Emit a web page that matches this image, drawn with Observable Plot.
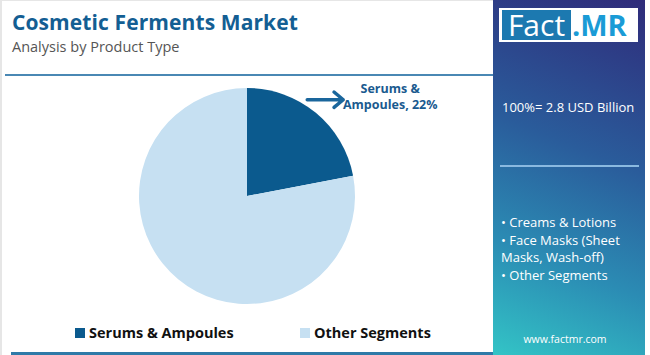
<!DOCTYPE html>
<html>
<head>
<meta charset="utf-8">
<script src="https://cdn.jsdelivr.net/npm/d3@7"></script>
<script src="https://cdn.jsdelivr.net/npm/@observablehq/plot@0.6"></script>
<style>
  html, body { margin: 0; padding: 0; background: #fff; }
  #wrap { position: relative; width: 650px; height: 355px; overflow: hidden; background: #fff; font-family: "Open Sans", sans-serif; }
  .abs { position: absolute; white-space: nowrap; }
  #title { left: 12px; top: 10px; font-size: 21px; line-height: 24px; font-weight: 700; color: #135e93; letter-spacing: 0.1px; }
  #subtitle { left: 12px; top: 39px; font-size: 14.5px; line-height: 16px; color: #555; }
  #topline { left: 5px; top: 74px; width: 488px; height: 2px; background: #4a88b4; }
  #botline { left: 11px; top: 352px; width: 482px; height: 3px; background: #2f7aa8; }
  #leftborder { left: 0; top: 0; width: 2px; height: 355px; background: #e6e6e6; }
  #topborder { left: 0; top: 0; width: 493px; height: 1px; background: #e6e6e6; }
  #chart { left: 0; top: 76px; }
  #panel { left: 493px; top: 0; width: 152px; height: 355px;
    background: linear-gradient(22deg, #33c4c6 0%, #2b8cb4 28%, #2a5c9b 58%, #2f2b7a 100%); }
  #logo { left: 499px; top: 8px; width: 139px; height: 34px; background: #fff; }
  #logoFact { left: 502px; top: 10px; width: 69px; height: 30px; background: #1c79b0; color: #fff; font-size: 30px; line-height: 30px; text-align: center; font-family: "Open Sans", sans-serif; }
  #logoMR { left: 572px; top: 10px; height: 30px; color: #1a9bd6; font-size: 29px; line-height: 30px; font-weight: 700; }
  #total { left: 502px; top: 98px; font-size: 13px; line-height: 18px; color: #fff; }
  #pline { left: 500px; top: 165px; width: 139px; height: 2px; background: #8ab9e0; }
  #bullets { left: 501px; top: 214px; font-size: 13px; line-height: 17.5px; color: #fff; white-space: normal; width: 140px; }
  #url { left: 493px; top: 332px; width: 144px; text-align: center; font-size: 10.5px; color: #fff; }
  .leg { top: 323px; font-size: 14.5px; line-height: 20px; font-weight: 700; color: #111; }
  .sw { width: 10px; height: 10px; top: 328px; }
</style>
</head>
<body>
<div id="wrap">
  <div class="abs" id="topborder"></div>
  <div class="abs" id="leftborder"></div>
  <div class="abs" id="title">Cosmetic Ferments Market</div>
  <div class="abs" id="subtitle">Analysis by Product Type</div>
  <div class="abs" id="topline"></div>
  <div class="abs" id="chart"></div>
  <div id="legend"></div>
  <div class="abs" id="botline"></div>
  <div class="abs" id="panel"></div>
  <div class="abs" id="logo"></div>
  <div class="abs" id="logoFact">Fact</div>
  <div class="abs" id="logoMR">.MR</div>
  <div class="abs" id="total"></div>
  <div class="abs" id="pline"></div>
  <div class="abs" id="bullets"></div>
  <div class="abs" id="url">www.factmr.com</div>
</div>
<script>
// ---- data ----
const segments = ["Serums & Ampoules", "Other Segments"];
const shares = [22, 78];
const colors = ["#0b5a8e", "#c6e0f2"];
const labelText = ["Serums &", "Ampoules, 22%"];
const totalText = "100%= 2.8 USD Billion";
const otherList = ["Creams & Lotions", "Face Masks (Sheet Masks, Wash-off)", "Other Segments"];

const data = segments.map((s, i) => ({segment: s, share: shares[i], color: colors[i]}));

// ---- layout (pixels) ----
const W = 493, H = 232, cx = 247, cy = 120, R = 108;

const arcs = d3.pie().value(d => d.share).sort(null)(data);
const first = arcs[0];
const aAng = first.startAngle + 0.4 * (first.endAngle - first.startAngle);
const aStart = {x: 1.053 * Math.sin(aAng), y: 1.053 * Math.cos(aAng)};
const aEnd = {x: aStart.x + 36 / R, y: aStart.y};
const lab = {x: aEnd.x + 47 / R, y: aStart.y + 4 / R};

const pieMark = (index, scales) => {
  const x0 = scales.x(0), y0 = scales.y(0), r = scales.x(1) - scales.x(0);
  const g = d3.create("svg:g").attr("transform", `translate(${x0},${y0})`);
  const arc = d3.arc().innerRadius(0).outerRadius(r);
  g.selectAll("path").data(arcs).join("path")
    .attr("d", arc).attr("fill", d => d.data.color);
  return g.node();
};

const plot = Plot.plot({
  width: W, height: H,
  margin: 0,
  x: {domain: [-cx / R, (W - cx) / R], axis: null},
  y: {domain: [-(H - cy) / R, cy / R], axis: null},
  marks: [
    pieMark,
    Plot.arrow([{x1: aStart.x, y1: aStart.y, x2: aEnd.x, y2: aEnd.y}], {
      x1: "x1", y1: "y1", x2: "x2", y2: "y2",
      stroke: "#1a669c", strokeWidth: 3.5, headLength: 11, headAngle: 80
    }),
    Plot.text([labelText.join("\n")], {
      x: () => lab.x, y: () => lab.y, text: d => d,
      fill: "#1a5a8f", fontWeight: 700, fontSize: 12.5, lineHeight: 1.33,
      fontFamily: "Open Sans, sans-serif", textAnchor: "middle"
    })
  ]
});
document.getElementById("chart").appendChild(plot);

// legend
const legend = document.getElementById("legend");
const legX = [75, 300];
segments.forEach((s, i) => {
  const sw = document.createElement("div");
  sw.className = "abs sw"; sw.style.left = legX[i] + "px"; sw.style.background = colors[i];
  legend.appendChild(sw);
  const t = document.createElement("div");
  t.className = "abs leg"; t.style.left = (legX[i] + 14) + "px"; t.textContent = s;
  legend.appendChild(t);
});

document.getElementById("total").textContent = totalText;
document.getElementById("bullets").innerHTML = otherList.map(s => "• " + s).join("<br>");
</script>
</body>
</html>
